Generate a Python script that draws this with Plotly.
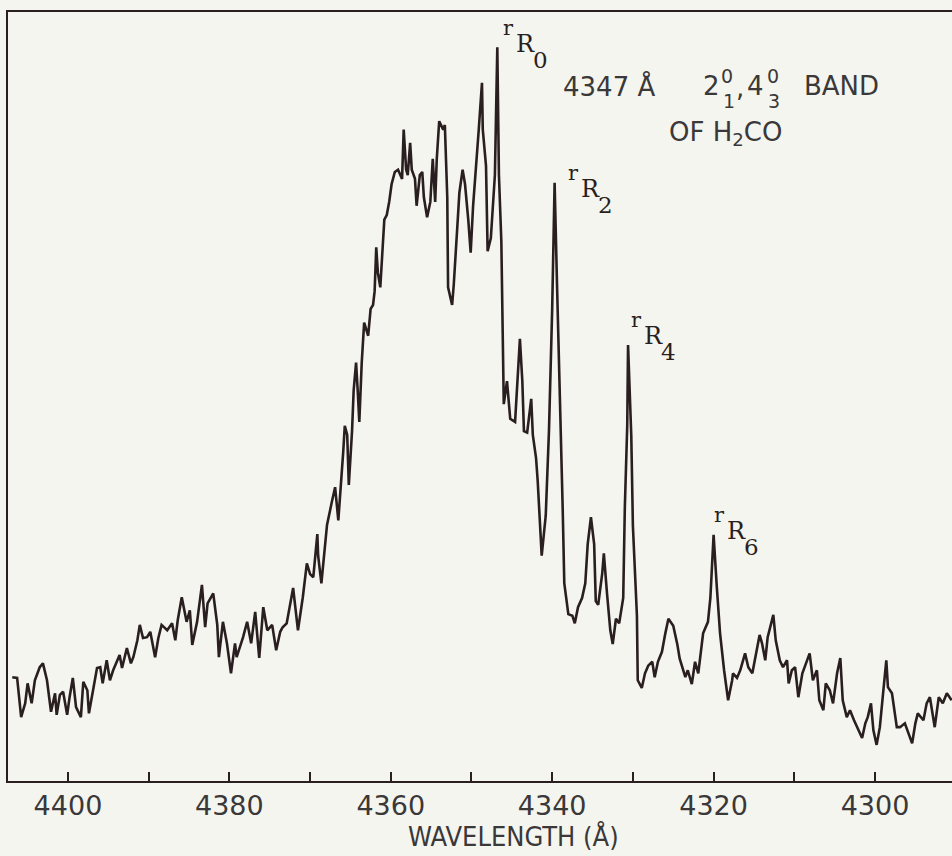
import plotly.graph_objects as go

# ---- data (wavelength in Angstrom, relative intensity 0-100) ----
WAVELENGTH = [
    4406.9, 4406.3, 4405.8, 4405.3, 4405.0, 4404.5, 4404.1, 4403.5, 4403.1, 4402.6,
    4402.1, 4401.6, 4401.4, 4401.0, 4400.6, 4400.1, 4399.8, 4399.4, 4399.0, 4398.4,
    4398.1, 4397.6, 4397.4, 4396.9, 4396.4, 4396.0, 4395.7, 4395.2, 4394.8, 4394.4,
    4393.9, 4393.6, 4393.3, 4392.7, 4392.2, 4391.9, 4391.4, 4391.1, 4390.7, 4390.2,
    4389.8, 4389.2, 4388.8, 4388.4, 4387.7, 4387.1, 4386.7, 4386.4, 4385.9, 4385.3,
    4384.9, 4384.6, 4384.0, 4383.4, 4383.0, 4382.7, 4382.0, 4381.5, 4381.3, 4380.8,
    4380.3, 4379.8, 4379.3, 4379.1, 4378.3, 4377.8, 4377.3, 4376.8, 4376.3, 4375.8,
    4375.3, 4374.7, 4374.2, 4373.7, 4373.4, 4372.9, 4372.1, 4371.5, 4370.9, 4370.4,
    4370.0, 4369.6, 4369.1, 4369.0, 4368.6, 4368.3, 4367.9, 4367.3, 4366.9, 4366.5,
    4366.3, 4365.9, 4365.7, 4365.4, 4365.2, 4364.8, 4364.6, 4364.3, 4364.1, 4363.9,
    4363.6, 4363.3, 4362.8, 4362.5, 4362.2, 4362.0, 4361.8, 4361.6, 4361.3, 4361.0,
    4360.8, 4360.5, 4360.2, 4359.9, 4359.5, 4359.1, 4358.6, 4358.4, 4358.1, 4357.9,
    4357.6, 4357.4, 4357.0, 4356.8, 4356.4, 4356.1, 4355.9, 4355.5, 4355.1, 4354.8,
    4354.5, 4354.3, 4354.0, 4353.5, 4353.3, 4353.0, 4352.9, 4352.4, 4352.2, 4351.8,
    4351.5, 4351.1, 4350.8, 4350.4, 4350.1, 4349.8, 4349.3, 4349.1, 4348.7, 4348.6,
    4348.2, 4348.0, 4347.6, 4347.1, 4346.8, 4346.6, 4346.3, 4346.1, 4346.0, 4345.6,
    4345.2, 4344.6, 4344.2, 4344.0, 4343.7, 4343.5, 4343.1, 4342.6, 4342.4, 4342.0,
    4341.8, 4341.3, 4340.8, 4340.4, 4340.0, 4339.7, 4339.4, 4339.0, 4338.7, 4338.5,
    4338.0, 4337.5, 4337.2, 4336.8, 4336.3, 4335.9, 4335.6, 4335.2, 4334.8, 4334.6,
    4334.3, 4333.8, 4333.6, 4333.2, 4332.8, 4332.5, 4332.1, 4331.7, 4331.2, 4331.0,
    4330.7, 4330.6, 4330.2, 4330.0, 4329.5, 4329.4, 4328.9, 4328.5, 4328.1, 4327.6,
    4327.3, 4326.9, 4326.4, 4326.0, 4325.6, 4325.0, 4324.5, 4324.2, 4323.5, 4323.2,
    4322.7, 4322.3, 4321.9, 4321.3, 4320.7, 4320.4, 4320.0, 4319.6, 4319.2, 4318.7,
    4318.2, 4317.7, 4317.6, 4317.1, 4316.7, 4316.1, 4315.7, 4315.2, 4314.7, 4314.3,
    4314.0, 4313.6, 4313.3, 4312.6, 4312.3, 4311.8, 4311.4, 4310.9, 4310.7, 4310.3,
    4309.9, 4309.5, 4309.0, 4308.7, 4308.1, 4307.7, 4307.2, 4306.9, 4306.4, 4306.1,
    4305.6, 4305.2, 4304.7, 4304.3, 4304.0, 4303.5, 4303.1, 4302.6, 4302.2, 4301.6,
    4301.2, 4300.9, 4300.5, 4300.2, 4299.8, 4299.4, 4299.0, 4298.6, 4298.4, 4297.9,
    4297.3, 4296.9, 4296.3, 4295.4, 4295.0, 4294.7, 4294.0, 4293.6, 4293.2, 4292.6,
    4292.1, 4291.6, 4291.1, 4290.5,
]
INTENSITY = [
    13.5, 13.4, 8.3, 10.1, 12.7, 10.1, 13.1, 14.8, 15.3, 13.1,
    9.0, 11.4, 8.6, 11.2, 11.6, 8.6, 10.9, 13.4, 9.6, 8.3,
    12.9, 11.8, 8.8, 11.8, 14.7, 14.8, 12.7, 15.7, 13.1, 14.4,
    15.7, 16.4, 14.7, 17.3, 15.3, 16.1, 18.3, 20.3, 18.6, 18.7,
    19.4, 16.1, 18.6, 20.3, 19.6, 20.5, 18.3, 20.9, 23.9, 20.7,
    22.2, 17.7, 20.7, 25.5, 20.0, 23.1, 24.4, 20.3, 16.1, 20.7,
    17.9, 14.0, 17.9, 16.1, 18.7, 20.7, 17.9, 22.0, 16.0, 22.6,
    19.6, 20.3, 17.0, 19.4, 20.0, 20.5, 25.1, 19.6, 23.9, 28.3,
    26.9, 26.5, 32.1, 29.3, 25.7, 28.6, 33.3, 36.3, 38.2, 33.9,
    36.5, 42.7, 46.2, 45.0, 38.5, 45.5, 50.8, 54.4, 50.8, 46.7,
    54.4, 59.6, 57.9, 61.4, 61.9, 63.7, 69.4, 66.1, 64.2, 70.1,
    73.0, 73.6, 75.3, 77.6, 79.2, 79.5, 78.3, 84.7, 79.5, 78.8,
    83.0, 79.5, 78.3, 74.8, 78.8, 79.2, 75.9, 73.3, 75.3, 80.9,
    75.3, 80.9, 85.8, 84.7, 85.3, 75.9, 64.2, 61.9, 64.5, 71.3,
    76.5, 79.5, 77.6, 73.0, 68.7, 74.8, 81.1, 84.7, 90.8, 84.7,
    80.0, 68.9, 70.6, 78.8, 95.4, 78.8, 70.1, 55.5, 49.0, 52.0,
    47.1, 46.7, 54.4, 57.5, 52.0, 45.5, 45.3, 49.7, 45.0, 42.0,
    39.1, 29.3, 34.5, 45.5, 61.4, 77.8, 64.5, 49.5, 35.5, 25.7,
    21.7, 21.5, 20.5, 22.6, 23.8, 25.7, 30.8, 34.3, 30.8, 23.4,
    22.9, 27.0, 29.6, 24.3, 19.6, 17.8, 21.1, 20.5, 23.8, 35.5,
    46.3, 56.7, 44.9, 33.2, 21.5, 13.1, 12.1, 14.0, 15.0, 15.5,
    13.5, 15.5, 16.8, 19.1, 21.1, 20.2, 17.8, 15.9, 13.5, 14.4,
    12.6, 15.5, 14.0, 19.2, 20.7, 23.8, 32.0, 25.2, 19.2, 14.4,
    10.5, 13.1, 14.0, 13.4, 14.4, 16.6, 14.8, 14.0, 16.6, 19.0,
    17.9, 15.7, 18.7, 21.6, 18.3, 15.7, 14.8, 15.7, 12.7, 14.4,
    14.8, 10.9, 14.0, 14.8, 16.6, 13.1, 14.4, 10.5, 9.2, 12.7,
    11.8, 10.1, 14.0, 16.0, 10.5, 8.3, 9.2, 7.9, 7.0, 5.6,
    7.5, 8.3, 10.1, 6.6, 4.7, 7.0, 11.4, 15.7, 12.2, 11.4,
    7.0, 7.0, 7.5, 4.9, 7.5, 8.8, 7.9, 10.1, 10.9, 7.0,
    10.9, 10.1, 11.4, 10.5,
]

MAJOR_TICKS = [4400, 4380, 4360, 4340, 4320, 4300]
MAJOR_LABELS = ["4400", "4380", "4360", "4340", "4320", "4300"]
MINOR_TICKS = [4390, 4370, 4350, 4330, 4310]

# peak labels  (rR_K): position of the small "r" in data units, and the K digit
PEAK_K = ["0", "2", "4", "6"]
PEAK_LABEL_WL = [4345.4, 4337.3, 4329.5, 4319.3]
PEAK_LABEL_I = [97.9, 79.1, 59.9, 34.6]

X_RANGE = [4407.43, 4290.46]
Y_RANGE = [0, 100]

INK = "#2a1f20"
PAPER = "#f5f5ef"
LABEL_INK = "#3a3838"

fig = go.Figure()
fig.add_trace(go.Scatter(
    x=WAVELENGTH, y=INTENSITY, mode="lines",
    line=dict(color=INK, width=2.6), hoverinfo="skip", showlegend=False,
))

ML, MR, MT, MB = 8, 0, 12, 75
W, H = 952, 856
PW, PH = W - ML - MR, H - MT - MB


def paper_xy(px, py):
    """pixel position on the page -> paper fraction (for text placement only)"""
    return (px - ML) / PW, (H - MB - py) / PH


annotations = []
SERIF = "DejaVu Serif"
# rR_K labels
for k, wl, inten in zip(PEAK_K, PEAK_LABEL_WL, PEAK_LABEL_I):
    common = dict(x=wl, y=inten, xref="x", yref="y", showarrow=False,
                  xanchor="center", yanchor="middle")
    annotations.append(dict(text="r", font=dict(family=SERIF, size=21, color=INK), **common))
    annotations.append(dict(text="R", xshift=17, yshift=-16,
                            font=dict(family=SERIF, size=24, color=INK), **common))
    annotations.append(dict(text=k, xshift=32, yshift=-32,
                            font=dict(family=SERIF, size=23, color=INK), **common))


def add_text(text, px, py, size, anchor="left", family="DejaVu Sans"):
    x, y = paper_xy(px, py)
    annotations.append(dict(
        text=text, x=x, y=y, xref="paper", yref="paper", showarrow=False,
        xanchor=anchor, yanchor="middle",
        font=dict(family=family, size=size, color=LABEL_INK)))


# band title, line 1:  4347 Å  2(0 over 1), 4(0 over 3) BAND
add_text("4347 Å", 561, 86, 26)
add_text("2", 701, 86, 26)
add_text("0", 719, 76, 19)
add_text("1", 721, 101, 19)
add_text(",", 734, 88, 26)
add_text("4", 745, 86, 26)
add_text("0", 765, 76, 19)
add_text("3", 766, 101, 19)
add_text("BAND", 802, 86, 26)
# line 2
add_text("OF H<sub>2</sub>CO", 667, 134, 26)
# axis title
add_text("WAVELENGTH (Å)", 513, 836, 27, anchor="center",
         family="DejaVu Sans Condensed, DejaVu Sans")

tick_style = dict(ticks="inside", ticklen=9, tickwidth=2, tickcolor=INK)

fig.update_layout(
    width=W, height=H,
    margin=dict(l=ML, r=MR, t=MT, b=MB, pad=0),
    paper_bgcolor=PAPER, plot_bgcolor=PAPER,
    showlegend=False,
    annotations=annotations,
    xaxis=dict(
        range=X_RANGE, showgrid=False, zeroline=False,
        showline=True, linecolor=INK, linewidth=2, mirror=True,
        tickmode="array", tickvals=MAJOR_TICKS, ticktext=MAJOR_LABELS,
        tickfont=dict(family="DejaVu Sans", size=27, color=LABEL_INK),
        minor=dict(tickmode="array", tickvals=MINOR_TICKS, showgrid=False, **tick_style),
        **tick_style,
    ),
    yaxis=dict(
        range=Y_RANGE, showgrid=False, zeroline=False,
        showline=True, linecolor=INK, linewidth=2,
        showticklabels=False, ticks="",
    ),
)

fig.write_html("out.html")
